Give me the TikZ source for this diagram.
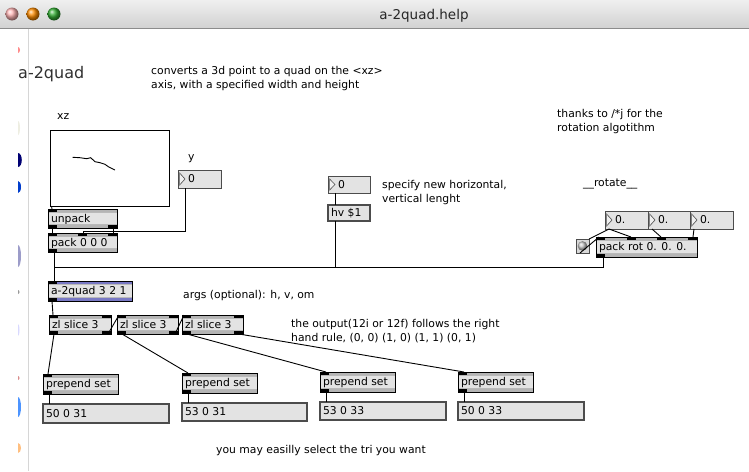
\documentclass[tikz,border=0pt]{standalone}
\usepackage{fontspec}
\setmainfont{DejaVu Sans}
\usetikzlibrary{calc}

\definecolor{boxgray}{HTML}{E3E3E3}
\definecolor{bandgray}{HTML}{B4B4B4}
\definecolor{msgedge}{HTML}{4C4C4C}
\definecolor{titletop}{HTML}{EFEFEF}
\definecolor{titlebot}{HTML}{D2D2D2}
\definecolor{titleedge}{HTML}{8C8C8C}
\definecolor{abstrblue}{HTML}{4C4CB0}
\definecolor{sideline}{HTML}{D6D6D6}
\definecolor{bigtext}{HTML}{303030}

\newcommand\uitext{\fontsize{10.8}{14}\selectfont}

% object box: [band colour] name, x, y, width, height, text
\newcommand\objectbox[7][bandgray]{%
  \pgfmathsetmacro\tw{#5-6}%
  \node[objbox, minimum height=#6pt] (#2) at (#3,#4) {\makebox[\tw pt][l]{#7}};
  \fill[#1] (#2.north west) rectangle ([yshift=-3.2pt]#2.north east);
  \fill[#1] (#2.south west) rectangle ([yshift=3.2pt]#2.south east);
  \draw[gray!55, line width=0.5pt] ([yshift=-3.5pt]#2.north west) -- ([yshift=-3.5pt]#2.north east);
  \draw[gray!55, line width=0.5pt] ([yshift=3.5pt]#2.south west) -- ([yshift=3.5pt]#2.south east);
  \draw[line width=1pt] (#2.north west) rectangle (#2.south east);
}
% inlets and outlets: box name, offset from the left edge
\newcommand\inlet[2]{\fill ([xshift=#2pt]#1.north west) rectangle ++(9,3.2);}
\newcommand\outlet[2]{\fill ([xshift=#2pt]#1.south west) rectangle ++(9,-3.2);}
\newcommand\inletR[1]{\fill ([xshift=-9pt]#1.north east) rectangle ++(9,3.2);}
\newcommand\outletR[1]{\fill ([xshift=-9pt]#1.south east) rectangle ++(9,-3.2);}
% number box: name, x, y, width, height, value
\newcommand\numberbox[6]{%
  \pgfmathsetmacro\tw{#4-6}%
  \node[numbox, minimum height=#5pt] (#1) at (#2,#3) {\makebox[\tw pt][l]{\hspace*{7pt}#6}};
  \filldraw[fill=gray!12, draw=gray!60!black, line width=0.6pt]
    ([xshift=1.6pt,yshift=-3pt]#1.north west) -- ([xshift=7pt]#1.west)
    -- ([xshift=1.6pt,yshift=3pt]#1.south west) -- cycle;
}
% message box: name, x, y, width, height, text
\newcommand\messagebox[6]{%
  \pgfmathsetmacro\tw{#4-6}%
  \node[msgbox, minimum height=#5pt] (#1) at (#2,#3) {\makebox[\tw pt][l]{#6}};
}

\begin{document}
\begin{tikzpicture}[x=1pt,y=-1pt,
  cable/.style={line width=0.9pt, draw=black},
  objbox/.style={fill=boxgray, anchor=north west, outer sep=0pt, inner xsep=3pt,
    inner ysep=0pt, font=\uitext, text height=8.6pt, text depth=1.2pt},
  msgbox/.style={objbox, draw=msgedge, line width=1.1pt},
  numbox/.style={objbox, draw=msgedge, line width=1pt},
  note/.style={font=\uitext, anchor=base west, inner sep=0pt}]

\useasboundingbox (0,0) rectangle (749,471);
\fill[white] (0,0) rectangle (749,471);

% window title bar
\shade[top color=titletop, bottom color=titlebot] (0,0) rectangle (749,28);
\draw[titleedge, line width=0.8pt] (0,28) -- (749,28);
\begin{scope}
  \clip (5,0) rectangle (749,28);
  \shade[ball color=red!30!white] (12,14) circle (6.5pt);
\end{scope}
\shade[ball color=orange!90!yellow] (33,14) circle (6.5pt);
\shade[ball color=green!60!black!80!white] (54,14) circle (6.5pt);
\node[anchor=base, font=\fontsize{13.5}{16}\selectfont, text=black!85] (wintitle) at (424,19) {a-2quad.help};

% edge of the neighbouring window
\draw[sideline, line width=1pt] (28,28.5) -- (28,471);
\begin{scope}
  \clip (18,28) rectangle (24,471);
  \fill[red!45!white] (18,50) ellipse (2pt and 3pt);
  \fill[yellow!25!gray!20] (18,128) ellipse (2pt and 7pt);
  \fill[blue!45!black] (18,160) ellipse (3.8pt and 7pt);
  \fill[blue!70!cyan!80!black] (18,187) ellipse (3pt and 6pt);
  \fill[gray!70!blue!60] (18,256) ellipse (3pt and 11pt);
  \fill[gray!80] (18,292) ellipse (1.5pt and 2pt);
  \fill[blue!15] (18,330) ellipse (1.5pt and 6pt);
  \fill[red!50!gray!60] (18,378) ellipse (1.5pt and 2pt);
  \fill[blue!60!cyan!70] (18,407) ellipse (3pt and 10pt);
  \fill[orange!50] (18,448) ellipse (3pt and 5pt);
\end{scope}

% comments
\node[note, font=\fontsize{16}{19}\selectfont, text=bigtext] (bigtitle) at (18,78) {a-2quad};
\node[note] (conv1) at (151,74) {converts a 3d point to a quad on the <xz>};
\node[note] (conv2) at (151,88) {axis, with a specified width and height};
\node[note] (thanks1) at (557,117) {thanks to /*j for the};
\node[note] (thanks2) at (557,131) {rotation algotithm};
\node[note] (xzlabel) at (57,119.5) {xz};
\node[note] (ylabel) at (188,160) {y};
\node[note] (spec1) at (382,188.5) {specify new horizontal,};
\node[note] (spec2) at (382,202) {vertical lenght};
\node[note] (rotlabel) at (583,186) {\_\_rotate\_\_};
\node[note] (args) at (183,298) {args (optional): h, v, om};
\node[note] (out1) at (291,327) {the output(12i or 12f) follows the right};
\node[note] (out2) at (291,341) {hand rule, (0, 0) (1, 0) (1, 1) (0, 1)};
\node[note] (select) at (216,453) {you may easilly select the tri you want};

% 2d slider area
\node[draw, fill=white, line width=1pt, minimum width=119pt, minimum height=76pt,
  anchor=north west, outer sep=0pt, inner sep=0pt] (lcd) at (50,130) {};
\draw[line width=0.9pt] (72.7,157.3) -- (80,157.7) -- (86.7,158.7) -- (90.7,157.7)
  -- (95,161.7) -- (100,162.7) -- (105,164.3) -- (108.3,166.7) -- (115,170);

% number boxes
\numberbox{ynum}{178}{170}{43}{18}{0}
\numberbox{hvnum}{328}{176}{42}{17}{0}
\numberbox{flA}{605}{211}{43}{18}{0.}
\numberbox{flB}{648}{211}{42}{18}{0.}
\numberbox{flC}{690}{211}{43}{18}{0.}

% message boxes
\messagebox{hvmsg}{328}{205}{42}{16}{hv \$1}
\messagebox{msgA}{43}{404}{126}{19}{50 0 31}
\messagebox{msgB}{182}{403}{125}{18}{53 0 31}
\messagebox{msgC}{320}{402}{126}{18}{53 0 33}
\messagebox{msgD}{458}{402}{126}{18}{50 0 33}

% bang
\node[draw=msgedge, fill=gray!30, line width=1pt, minimum width=13pt, minimum height=14pt,
  anchor=north west, outer sep=0pt, inner sep=0pt] (bang) at (576,239) {};
\shade[ball color=gray!45] (bang.center) circle (4.8pt);

% object boxes
\objectbox{unpack}{48}{209}{69}{19}{unpack}
\inlet{unpack}{0}\outlet{unpack}{0}\outletR{unpack}
\objectbox{pack}{48}{233}{69}{19}{pack 0 0 0}
\inlet{pack}{0}\inlet{pack}{30}\inletR{pack}\outlet{pack}{0}
\objectbox{packrot}{596}{237}{101}{20}{pack rot 0. 0. 0.}
\inlet{packrot}{0}\inlet{packrot}{31}\inlet{packrot}{61}\inletR{packrot}\outlet{packrot}{0}
\objectbox[abstrblue!75!white]{a2quad}{48}{281}{84}{20}{a-2quad 3 2 1}
\inlet{a2quad}{0}\outlet{a2quad}{0}
\objectbox{zlA}{49}{315}{62}{19}{zl slice 3}
\objectbox{zlB}{117}{315}{61}{19}{zl slice 3}
\objectbox{zlC}{182}{315}{61}{19}{zl slice 3}
\foreach \z in {zlA,zlB,zlC}{\inlet{\z}{0}\inletR{\z}\outlet{\z}{0}\outletR{\z}}
\objectbox{prepA}{43}{374}{75}{20}{prepend set}
\objectbox{prepB}{182}{373}{75}{20}{prepend set}
\objectbox{prepC}{320}{372}{75}{20}{prepend set}
\objectbox{prepD}{458}{372}{75}{20}{prepend set}
\foreach \p in {prepA,prepB,prepC,prepD}{\inlet{\p}{0}\outlet{\p}{0}}

% patch cords
\draw[cable] ([xshift=1.5pt]lcd.south west) -- ([xshift=4pt]unpack.north west);
\draw[cable] ([xshift=4pt]unpack.south west) -- ([xshift=4pt]pack.north west);
\draw[cable] ([xshift=-4pt]unpack.south east) -- ([xshift=-4pt]pack.north east);
\draw[cable] ([xshift=7pt]ynum.south west) |- ([xshift=35pt,yshift=2pt]pack.north west)
  -- ([xshift=35pt]pack.north west);
\draw[cable] ([xshift=6pt]pack.south west) -- ([xshift=6pt]a2quad.north west);
\draw[cable] ([xshift=7pt]hvnum.south west) -- ([xshift=7pt]hvmsg.north west);
\draw[cable] ([xshift=7pt]hvmsg.south west) |- ([xshift=6pt,yshift=14pt]a2quad.north west);
\draw[cable] ([xshift=7pt]packrot.south west) |- ([xshift=6pt,yshift=14pt]a2quad.north west);
\draw[cable] ([xshift=4pt]flA.south west) -- ([xshift=35pt]packrot.north west);
\draw[cable] ([xshift=4pt]flB.south west) -- ([xshift=65pt]packrot.north west);
\draw[cable] ([xshift=4pt]flC.south west) -- ([xshift=-4pt]packrot.north east);
\draw[cable] ([xshift=4pt]flA.south west) -- (bang.north east);
\draw[cable] ([xshift=4pt]bang.south west) -- ([xshift=3pt]packrot.north west);
\draw[cable] ([xshift=4pt]a2quad.south west) -- ([xshift=4pt]zlA.north west);
\draw[cable] ([xshift=-3pt]zlA.south east) -- ([xshift=2pt]zlB.north west);
\draw[cable] ([xshift=-3pt]zlB.south east) -- ([xshift=2pt]zlC.north west);
\draw[cable] ([xshift=5pt]zlA.south west) -- ([xshift=5pt]prepA.north west);
\draw[cable] ([xshift=5pt]zlB.south west) -- ([xshift=6pt]prepB.north west);
\draw[cable] ([xshift=5pt]zlC.south west) -- ([xshift=6pt]prepC.north west);
\draw[cable] ([xshift=-4pt]zlC.south east) -- ([xshift=6pt]prepD.north west);
\draw[cable] ([xshift=6pt]prepA.south west) -- ([xshift=6pt]msgA.north west);
\draw[cable] ([xshift=6pt]prepB.south west) -- ([xshift=6pt]msgB.north west);
\draw[cable] ([xshift=6pt]prepC.south west) -- ([xshift=6pt]msgC.north west);
\draw[cable] ([xshift=6pt]prepD.south west) -- ([xshift=6pt]msgD.north west);
\end{tikzpicture}
\end{document}
